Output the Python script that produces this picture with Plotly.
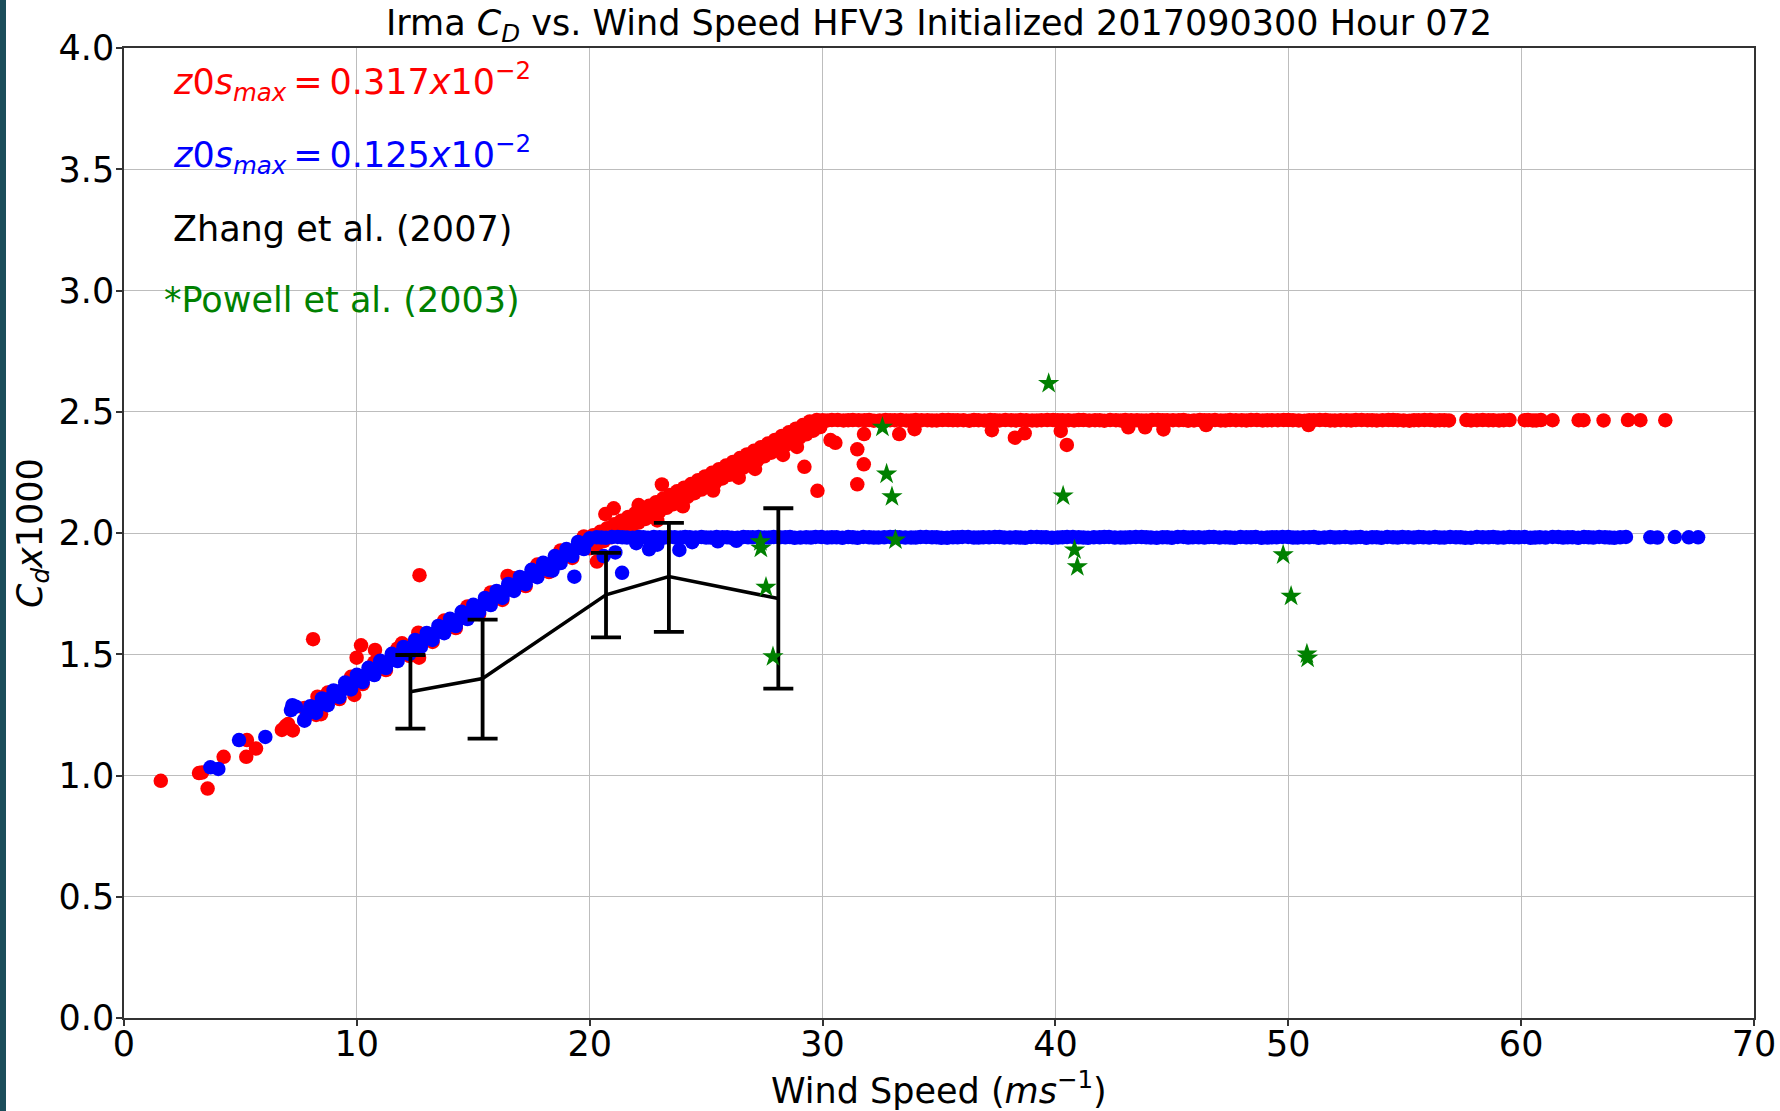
import plotly.graph_objects as go

FONT = "DejaVu Sans"

# ---------------- data ----------------
# z0s_max = 0.317e-2 (red)
red_out_v = [1.58, 3.22, 3.35, 3.59, 4.28, 5.25, 5.28, 5.67, 8.12, 12.69,
             6.78, 6.88, 6.95, 7.05, 9.99, 10.18, 10.78, 11.94, 12.64, 12.67,
             8.46, 8.31, 9.89, 16.47, 20.31, 20.67, 21.03, 22.10, 23.10, 29.22,
             29.78, 30.34, 30.55, 31.49, 31.77, 31.49, 31.78, 33.29, 33.95, 37.27,
             38.26, 38.68, 40.23, 40.49, 43.13, 43.85, 44.64, 46.47, 50.87]
red_out_cd = [0.978, 1.010, 1.012, 0.946, 1.077, 1.077, 1.146, 1.111, 1.562, 1.826,
              1.188, 1.195, 1.205, 1.212, 1.486, 1.537, 1.518, 1.545, 1.589, 1.486,
              1.253, 1.325, 1.332, 1.823, 1.882, 2.078, 2.102, 2.115, 2.200, 2.273,
              2.174, 2.383, 2.372, 2.345, 2.283, 2.201, 2.408, 2.408, 2.428, 2.424,
              2.393, 2.411, 2.421, 2.363, 2.436, 2.436, 2.427, 2.445, 2.445]

red_ramp1_v = [7.25, 7.75, 8.25, 8.75, 9.25, 9.75, 10.25, 10.75, 11.25, 11.75,
               12.25, 12.75, 13.25, 13.75, 14.25, 14.75, 15.25, 15.75, 16.25, 16.75,
               17.25, 17.75, 18.25, 18.75, 19.25, 19.75]
red_ramp1_cd = [1.186, 1.278, 1.250, 1.342, 1.315, 1.407, 1.377, 1.466, 1.435, 1.524,
                1.493, 1.582, 1.551, 1.639, 1.608, 1.697, 1.666, 1.755, 1.724, 1.813,
                1.781, 1.870, 1.839, 1.928, 1.897, 1.986]

red_ramp_up_v = [20.15, 20.45, 20.75, 21.05, 21.35, 21.65, 21.95, 22.25, 22.55, 22.85,
                 23.15, 23.45, 23.75, 24.05, 24.35, 24.65, 24.95, 25.25, 25.55, 25.85,
                 26.15, 26.45, 26.75, 27.05, 27.35, 27.65, 27.95, 28.25, 28.55, 28.85,
                 29.15, 29.45, 29.75]
red_ramp_up_cd = [1.991, 2.005, 2.020, 2.036, 2.051, 2.066, 2.081, 2.096, 2.112, 2.127,
                  2.142, 2.157, 2.172, 2.187, 2.202, 2.218, 2.233, 2.248, 2.263, 2.278,
                  2.293, 2.309, 2.324, 2.339, 2.354, 2.369, 2.384, 2.400, 2.415, 2.430,
                  2.445, 2.460, 2.466]

red_ramp_lo_v = [20.0, 20.3, 20.6, 20.9, 21.2, 21.5, 21.8, 22.1, 22.4, 22.7,
                 23.0, 23.3, 23.6, 23.9, 24.2, 24.5, 24.8, 25.1, 25.4, 25.7,
                 26.0, 26.3, 26.6, 26.9, 27.2, 27.5, 27.8, 28.1, 28.4, 28.7,
                 29.0, 29.3, 29.6, 29.9]
red_ramp_lo_cd = [1.937, 1.952, 1.967, 1.982, 1.998, 2.013, 2.028, 2.043, 2.058, 2.073,
                  2.089, 2.104, 2.119, 2.134, 2.149, 2.164, 2.179, 2.195, 2.210, 2.225,
                  2.240, 2.255, 2.270, 2.285, 2.301, 2.316, 2.331, 2.346, 2.361, 2.376,
                  2.392, 2.407, 2.422, 2.437]

red_bump_v = [21.6, 22.9, 24.0, 25.3, 26.4, 27.1, 28.3, 28.9]
red_bump_cd = [1.990, 2.052, 2.110, 2.175, 2.228, 2.264, 2.322, 2.355]

red_flat_v = [30.0, 30.4, 30.9, 31.3, 31.8, 32.2, 32.7, 33.1, 33.6, 34.0,
              34.5, 34.9, 35.4, 35.8, 36.3, 36.7, 37.2, 37.6, 38.1, 38.5,
              39.0, 39.4, 39.9, 40.3, 40.8, 41.2, 41.7, 42.1, 42.6, 43.0,
              43.5, 43.9, 44.4, 44.8, 45.3, 45.7, 46.2, 46.6, 47.1, 47.5,
              48.0, 48.4, 48.9, 49.3, 49.8, 50.2, 50.7, 51.1, 51.6, 52.0,
              52.5, 52.9, 53.4, 53.8, 54.3, 54.7, 55.2, 55.6, 56.1, 56.5,
              56.9, 57.65, 58.1, 58.6, 59.05, 59.5, 60.15, 60.5, 60.85, 61.35,
              62.47, 62.68, 63.54, 64.59, 65.12, 66.19]
red_flat_cd = [2.465, 2.466, 2.464, 2.466, 2.465, 2.463, 2.466, 2.465, 2.464, 2.466,
               2.465, 2.464, 2.466, 2.465, 2.463, 2.465, 2.466, 2.464, 2.465, 2.466,
               2.464, 2.465, 2.466, 2.465, 2.464, 2.466, 2.465, 2.463, 2.465, 2.466,
               2.465, 2.464, 2.466, 2.465, 2.465, 2.463, 2.466, 2.465, 2.464, 2.466,
               2.465, 2.466, 2.464, 2.465, 2.466, 2.465, 2.463, 2.465, 2.466, 2.464,
               2.465, 2.466, 2.465, 2.464, 2.466, 2.465, 2.463, 2.465, 2.466, 2.465,
               2.464, 2.466, 2.465, 2.465, 2.464, 2.466, 2.465, 2.464, 2.466, 2.465,
               2.465, 2.465, 2.464, 2.466, 2.465, 2.465]

red_flat2_v = [30.2, 30.65, 31.1, 31.55, 32.0, 32.45, 32.9, 33.35, 33.8, 34.25,
               34.7, 35.15, 35.6, 36.05, 36.5, 36.95, 37.4, 37.85, 38.3, 38.75,
               39.2, 39.65, 40.1, 40.55, 41.0, 41.45, 41.9, 42.35, 42.8, 43.25,
               43.7, 44.15, 44.6, 45.05, 45.5, 45.95, 46.4, 46.85, 47.3, 47.75,
               48.2, 48.65, 49.1, 49.55, 50.0, 50.45, 50.9, 51.35, 51.8, 52.25,
               52.7, 53.15, 53.6, 54.05, 54.5, 54.95, 55.4, 55.85, 56.3, 56.7,
               57.85, 58.35, 58.8, 59.25, 60.3, 60.65]
red_flat2_cd = [2.464, 2.466, 2.465, 2.465, 2.466, 2.464, 2.465, 2.466, 2.464, 2.465,
                2.464, 2.466, 2.465, 2.465, 2.466, 2.464, 2.465, 2.466, 2.464, 2.465,
                2.464, 2.466, 2.465, 2.465, 2.466, 2.464, 2.465, 2.466, 2.464, 2.465,
                2.464, 2.466, 2.465, 2.465, 2.466, 2.464, 2.465, 2.466, 2.464, 2.465,
                2.464, 2.466, 2.465, 2.465, 2.466, 2.464, 2.465, 2.466, 2.464, 2.465,
                2.464, 2.466, 2.465, 2.465, 2.466, 2.464, 2.465, 2.466, 2.464, 2.465,
                2.464, 2.466, 2.465, 2.465, 2.466, 2.464]

# z0s_max = 0.125e-2 (blue)
blue_low_v = [3.71, 4.05, 4.94, 6.07, 7.17, 7.23, 7.38, 7.74]
blue_low_cd = [1.034, 1.027, 1.146, 1.159, 1.270, 1.290, 1.284, 1.229]

blue_ramp_v = [7.75, 8.00, 8.25, 8.50, 8.75, 9.00, 9.25, 9.50, 9.75, 10.00,
               10.25, 10.50, 10.75, 11.00, 11.25, 11.50, 11.75, 12.00, 12.25, 12.50,
               12.75, 13.00, 13.25, 13.50, 13.75, 14.00, 14.25, 14.50, 14.75, 15.00,
               15.25, 15.50, 15.75, 16.00, 16.25, 16.50, 16.75, 17.00, 17.25, 17.50,
               17.75, 18.00, 18.25, 18.50, 18.75, 19.00, 19.25, 19.50, 19.75, 20.00]
blue_ramp_cd = [1.226, 1.286, 1.258, 1.318, 1.290, 1.351, 1.323, 1.383, 1.355, 1.415,
                1.385, 1.444, 1.414, 1.473, 1.443, 1.502, 1.472, 1.530, 1.501, 1.559,
                1.530, 1.588, 1.559, 1.617, 1.587, 1.646, 1.616, 1.675, 1.645, 1.704,
                1.674, 1.732, 1.703, 1.761, 1.732, 1.790, 1.761, 1.819, 1.789, 1.848,
                1.818, 1.877, 1.847, 1.905, 1.876, 1.934, 1.905, 1.963, 1.934, 1.978]

blue_mid_v = [7.875, 8.125, 8.375, 8.625, 8.875, 9.125, 9.375, 9.625, 9.875, 10.125,
              10.375, 10.625, 10.875, 11.125, 11.375, 11.625, 11.875, 12.125, 12.375, 12.625,
              12.875, 13.125, 13.375, 13.625, 13.875, 14.125, 14.375, 14.625, 14.875, 15.125,
              15.375, 15.625, 15.875, 16.125, 16.375, 16.625, 16.875, 17.125, 17.375, 17.625,
              17.875, 18.125, 18.375, 18.625, 18.875, 19.125, 19.375, 19.625, 19.875]
blue_mid_cd = [1.256, 1.272, 1.288, 1.304, 1.320, 1.337, 1.353, 1.369, 1.385, 1.400,
               1.415, 1.429, 1.444, 1.458, 1.472, 1.487, 1.501, 1.516, 1.530, 1.545,
               1.559, 1.573, 1.588, 1.602, 1.617, 1.631, 1.645, 1.660, 1.674, 1.689,
               1.703, 1.718, 1.732, 1.746, 1.761, 1.775, 1.790, 1.804, 1.819, 1.833,
               1.847, 1.862, 1.876, 1.891, 1.905, 1.920, 1.934, 1.948, 1.963]

blue_extra_v = [18.4, 19.34, 20.6, 21.1, 21.39, 22.0, 22.55, 22.9, 23.85, 24.4, 25.5, 26.3]
blue_extra_cd = [1.845, 1.820, 1.905, 1.920, 1.836, 1.958, 1.933, 1.952, 1.930, 1.962, 1.966, 1.968]

blue_flat_v = [20.3, 20.7, 21.2, 21.6, 22.1, 22.5, 23.0, 23.4, 23.9, 24.3,
               24.8, 25.2, 25.7, 26.1, 26.6, 27.0, 27.5, 27.9, 28.4, 28.8,
               29.3, 29.7, 30.2, 30.6, 31.1, 31.5, 32.0, 32.4, 32.9, 33.3,
               33.8, 34.2, 34.7, 35.1, 35.6, 36.0, 36.5, 36.9, 37.4, 37.8,
               38.3, 38.7, 39.2, 39.6, 40.1, 40.5, 41.0, 41.4, 41.9, 42.3,
               42.8, 43.2, 43.7, 44.1, 44.6, 45.0, 45.5, 45.9, 46.4, 46.8,
               47.3, 47.7, 48.2, 48.6, 49.1, 49.5, 50.0, 50.4, 50.9, 51.3,
               51.8, 52.2, 52.7, 53.1, 53.6, 54.0, 54.5, 54.9, 55.4, 55.8,
               56.3, 56.7, 57.2, 57.6, 58.1, 58.6, 59.0, 59.5, 59.9, 60.4,
               60.8, 61.35, 61.8, 62.2, 62.7, 63.1, 63.6, 64.0, 64.5, 65.55,
               65.85, 66.6, 67.2, 67.6]
blue_flat_cd = [1.982, 1.980, 1.984, 1.981, 1.983, 1.980, 1.982, 1.984, 1.981, 1.982,
                1.983, 1.981, 1.982, 1.980, 1.984, 1.982, 1.981, 1.983, 1.982, 1.980,
                1.982, 1.984, 1.981, 1.982, 1.983, 1.980, 1.982, 1.981, 1.984, 1.982,
                1.981, 1.983, 1.982, 1.980, 1.982, 1.984, 1.981, 1.982, 1.983, 1.981,
                1.982, 1.980, 1.984, 1.982, 1.981, 1.983, 1.982, 1.980, 1.982, 1.984,
                1.981, 1.982, 1.983, 1.981, 1.982, 1.980, 1.984, 1.982, 1.981, 1.983,
                1.982, 1.980, 1.982, 1.984, 1.981, 1.982, 1.983, 1.981, 1.982, 1.980,
                1.984, 1.982, 1.981, 1.983, 1.982, 1.980, 1.982, 1.984, 1.981, 1.982,
                1.983, 1.981, 1.982, 1.980, 1.984, 1.982, 1.981, 1.983, 1.982, 1.980,
                1.982, 1.984, 1.981, 1.982, 1.983, 1.981, 1.982, 1.980, 1.984, 1.982,
                1.981, 1.983, 1.982, 1.982]

blue_flat2_v = [20.5, 20.95, 21.4, 21.85, 22.3, 22.75, 23.2, 23.65, 24.1, 24.55,
                25.0, 25.45, 25.9, 26.35, 26.8, 27.25, 27.7, 28.15, 28.6, 29.05,
                29.5, 29.95, 30.4, 30.85, 31.3, 31.75, 32.2, 32.65, 33.1, 33.55,
                34.0, 34.45, 34.9, 35.35, 35.8, 36.25, 36.7, 37.15, 37.6, 38.05,
                38.5, 38.95, 39.4, 39.85, 40.3, 40.75, 41.2, 41.65, 42.1, 42.55,
                43.0, 43.45, 43.9, 44.35, 44.8, 45.25, 45.7, 46.15, 46.6, 47.05,
                47.5, 47.95, 48.4, 48.85, 49.3, 49.75, 50.2, 50.65, 51.1, 51.55,
                52.0, 52.45, 52.9, 53.35, 53.8, 54.25, 54.7, 55.15, 55.6, 56.05,
                56.5, 56.95, 57.4, 57.85, 58.35, 58.8, 59.25, 59.7, 60.15, 60.6,
                61.05, 61.6, 62.0, 62.45, 62.9, 63.35, 63.8, 64.25]
blue_flat2_cd = [1.981, 1.983, 1.982, 1.980, 1.982, 1.984, 1.981, 1.982, 1.983, 1.981,
                 1.981, 1.983, 1.982, 1.980, 1.982, 1.984, 1.981, 1.982, 1.983, 1.981,
                 1.981, 1.983, 1.982, 1.980, 1.982, 1.984, 1.981, 1.982, 1.983, 1.981,
                 1.981, 1.983, 1.982, 1.980, 1.982, 1.984, 1.981, 1.982, 1.983, 1.981,
                 1.981, 1.983, 1.982, 1.980, 1.982, 1.984, 1.981, 1.982, 1.983, 1.981,
                 1.981, 1.983, 1.982, 1.980, 1.982, 1.984, 1.981, 1.982, 1.983, 1.981,
                 1.981, 1.983, 1.982, 1.980, 1.982, 1.984, 1.981, 1.982, 1.983, 1.981,
                 1.981, 1.983, 1.982, 1.980, 1.982, 1.984, 1.981, 1.982, 1.983, 1.981,
                 1.981, 1.983, 1.982, 1.980, 1.982, 1.984, 1.981, 1.982, 1.983, 1.981,
                 1.981, 1.983, 1.982, 1.980, 1.982, 1.984, 1.981, 1.982]

# Zhang et al. (2007)
zhang_v = [12.3, 15.4, 20.7, 23.4, 28.1]
zhang_cd = [1.345, 1.400, 1.745, 1.820, 1.730]
zhang_err_plus = [0.152, 0.243, 0.173, 0.222, 0.372]
zhang_err_minus = [0.152, 0.248, 0.175, 0.228, 0.372]

# Powell et al. (2003)
powell_v = [27.33, 27.35, 27.57, 27.87, 32.57, 32.75, 32.98, 33.13,
            39.71, 40.33, 40.82, 40.94, 49.78, 50.12, 50.80, 50.83]
powell_cd = [1.964, 1.937, 1.776, 1.490, 2.436, 2.243, 2.150, 1.971,
             2.617, 2.153, 1.930, 1.861, 1.910, 1.739, 1.501, 1.484]

x_ticks = [0, 10, 20, 30, 40, 50, 60, 70]
y_ticks = [0.0, 0.5, 1.0, 1.5, 2.0, 2.5, 3.0, 3.5, 4.0]

# ---------------- figure ----------------
red_v = (red_ramp1_v + red_ramp_up_v + red_ramp_lo_v + red_bump_v
         + red_flat_v + red_flat2_v + red_out_v)
red_cd = (red_ramp1_cd + red_ramp_up_cd + red_ramp_lo_cd + red_bump_cd
          + red_flat_cd + red_flat2_cd + red_out_cd)
blue_v = blue_low_v + blue_ramp_v + blue_mid_v + blue_extra_v + blue_flat_v + blue_flat2_v
blue_cd = blue_low_cd + blue_ramp_cd + blue_mid_cd + blue_extra_cd + blue_flat_cd + blue_flat2_cd

MS = 14.5
fig = go.Figure()
fig.add_trace(go.Scatter(x=red_v, y=red_cd, mode="markers",
                         marker=dict(color="#ff0000", size=MS, line=dict(width=0))))
fig.add_trace(go.Scatter(x=blue_v, y=blue_cd, mode="markers",
                         marker=dict(color="#0000ff", size=MS, line=dict(width=0))))
fig.add_trace(go.Scatter(x=zhang_v, y=zhang_cd, mode="lines",
                         line=dict(color="black", width=3.5),
                         error_y=dict(type="data", array=zhang_err_plus,
                                      arrayminus=zhang_err_minus, color="black",
                                      thickness=3.8, width=15)))
fig.add_trace(go.Scatter(x=powell_v, y=powell_cd, mode="markers",
                         marker=dict(symbol="star", color="#008000", size=16,
                                     line=dict(width=0))))

W, H = 1780, 1111
ML, MR, MT, MB = 124, 26, 48, 93
PW, PH = W - ML - MR, H - MT - MB

axis_common = dict(showgrid=True, gridcolor="#bdbdbd", gridwidth=1, zeroline=False,
                   showline=True, mirror=True, linecolor="#333333", linewidth=1.5,
                   ticks="outside", ticklen=6, tickwidth=1.5, tickcolor="#333333",
                   automargin=False,
                   tickfont=dict(family=FONT, size=35, color="black"))

fig.update_layout(
    width=W, height=H,
    margin=dict(l=ML, r=MR, t=MT, b=MB, pad=0, autoexpand=False),
    paper_bgcolor="white", plot_bgcolor="white",
    showlegend=False,
    font=dict(family=FONT, size=35, color="black"),
    xaxis=dict(range=[0, 70], tickvals=x_ticks, ticktext=[str(t) for t in x_ticks],
               ticklabelstandoff=-12, **axis_common),
    yaxis=dict(range=[0, 4], tickvals=y_ticks, ticktext=["%.1f" % t for t in y_ticks],
               ticklabelstandoff=-5, **axis_common),
)

# dark strip at the left edge
fig.add_shape(type="rect", xref="paper", yref="paper",
              x0=-ML / PW - 0.002, x1=-(ML - 6) / PW, y0=-MB / PH - 0.01, y1=1 + MT / PH + 0.01,
              fillcolor="#1b4d5a", line=dict(width=0), layer="above")

# title
fig.add_annotation(xref="paper", yref="paper", x=0.5, y=1 + (MT - 25) / PH,
                   xanchor="center", yanchor="middle", showarrow=False,
                   text="Irma <i>C</i><sub><i>D</i></sub> vs. Wind Speed HFV3 Initialized 2017090300 Hour 072",
                   font=dict(family=FONT, size=35, color="black"))
# axis titles
fig.add_annotation(xref="paper", yref="paper", x=0.5, y=-(1088 - (H - MB)) / PH,
                   xanchor="center", yanchor="middle", showarrow=False,
                   text="Wind Speed (<i>ms</i><sup>\u22121</sup>)",
                   font=dict(family=FONT, size=35, color="black"))
fig.add_annotation(xref="paper", yref="paper", x=-(ML - 32) / PW, y=0.5,
                   xanchor="center", yanchor="middle", showarrow=False, textangle=-90,
                   text="<i>C</i><sub><i>d</i></sub><i>x</i>1000",
                   font=dict(family=FONT, size=35, color="black"))

# in-plot labels
labels = [
    ("<i>z</i>0<i>s</i><sub><i>max</i></sub>\u2009=\u20090.317<i>x</i>10<sup>\u22122</sup>", "#ff0000", 2.0, 3.86),
    ("<i>z</i>0<i>s</i><sub><i>max</i></sub>\u2009=\u20090.125<i>x</i>10<sup>\u22122</sup>", "#0000ff", 2.0, 3.56),
    ("Zhang et al. (2007)", "black", 2.0, 3.255),
    ("*Powell et al. (2003)", "#008000", 1.65, 2.96),
]
for txt, col, xx, yy in labels:
    fig.add_annotation(x=xx, y=yy, xref="x", yref="y", xanchor="left", yanchor="middle",
                       showarrow=False, text=txt,
                       font=dict(family=FONT, size=35, color=col))

fig.write_html("out.html", config={"displayModeBar": False},
               post_script="document.body.style.margin='0';document.body.style.overflow='hidden';")
